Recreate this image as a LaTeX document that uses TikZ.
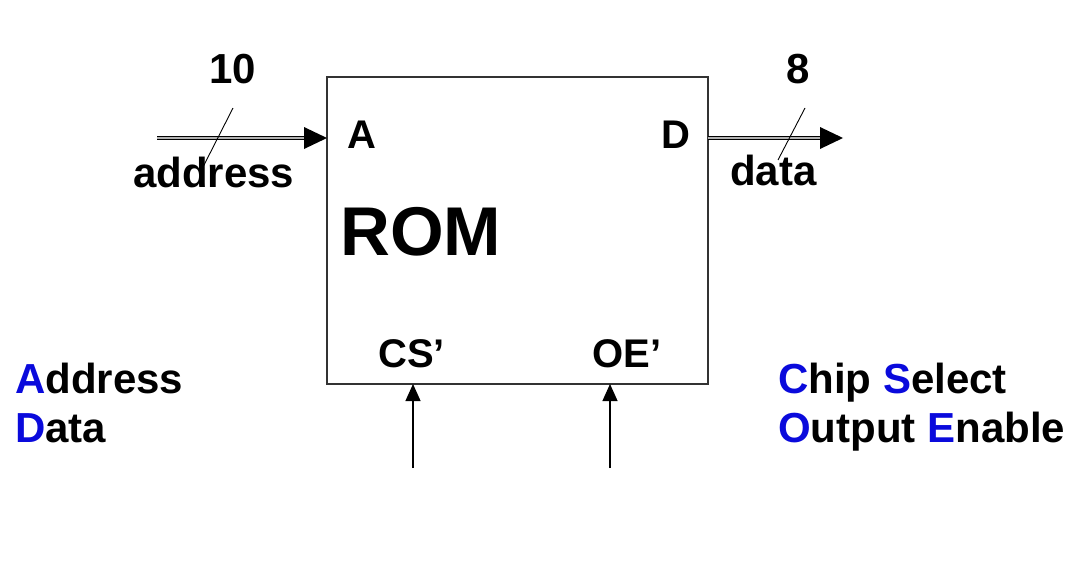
\documentclass[tikz,border=0pt]{standalone}
\usepackage{fontspec}
\setmainfont{Liberation Sans}
\usetikzlibrary{arrows.meta,calc}
\definecolor{keyblue}{RGB}{10,10,220}
\tikzset{
  lbl/.style={inner sep=0pt, anchor=base west, font=\bfseries\fontsize{40}{48}\selectfont},
  biglbl/.style={lbl, font=\bfseries\fontsize{42}{50}\selectfont},
  bus/.style={double=gray!60, line width=1.1pt, double distance=2pt},
  ctl/.style={line width=1.2pt, -{Triangle[length=17pt,width=15pt]}},
  slash/.style={line width=0.9pt}
}
\newcommand{\kb}[1]{\textcolor{keyblue}{#1}}
\begin{document}
\begin{tikzpicture}[x=1pt,y=-1pt]
\useasboundingbox (0,0) rectangle (1081,563);
% ROM box
\node[draw=black!80, line width=1.3pt, minimum width=381pt, minimum height=307pt, inner sep=0pt] (rom) at (517.5,230.5) {};
% coordinates
\coordinate (ain) at (157,138);
\coordinate (ain2) at (327,138);
\coordinate (dout1) at (708,138);
\coordinate (dout) at (843,138);
\coordinate (csin) at (413,468);
\coordinate (csend) at (413,384);
\coordinate (oein) at (610,468);
\coordinate (oeend) at (610,384);
% buses
\draw[bus] (ain) -- ($(ain2)+(-20,0)$);
\draw[bus] (dout1) -- ($(dout)+(-20,0)$);
\fill (ain2) -- ++(-23,-11) -- ++(0,22) -- cycle;
\fill (dout) -- ++(-23,-11) -- ++(0,22) -- cycle;
% slashes
\coordinate (s1a) at (233,108);
\coordinate (s1b) at (203,167);
\coordinate (s2a) at (805,108);
\coordinate (s2b) at (778,160);
\draw[slash] (s1a) -- (s1b);
\draw[slash] (s2a) -- (s2b);
% control arrows
\draw[ctl] (csin) -- (csend);
\draw[ctl] (oein) -- (oeend);
% labels
\node[biglbl] (n10) at (209,83) {10};
\node[biglbl] (n8) at (786,83) {8};
\node[biglbl] (addr) at (133,187) {address};
\node[biglbl] (data) at (730,185) {data};
\node[lbl] (pa) at (347,148) {A};
\node[lbl] (pd) at (661,148) {D};
\node[lbl, font=\bfseries\fontsize{69}{80}\selectfont] (romt) at (340,255) {ROM};
\node[lbl] (cs) at (378,367) {CS’};
\node[lbl] (oe) at (592,367) {OE’};
\node[biglbl] (k1) at (15,393) {\kb{A}ddress};
\node[biglbl] (k2) at (15,442) {\kb{D}ata};
\node[biglbl] (k3) at (778,393) {\kb{C}hip \kb{S}elect};
\node[biglbl] (k4) at (778,442) {\kb{O}utput \kb{E}nable};
\end{tikzpicture}
\end{document}
